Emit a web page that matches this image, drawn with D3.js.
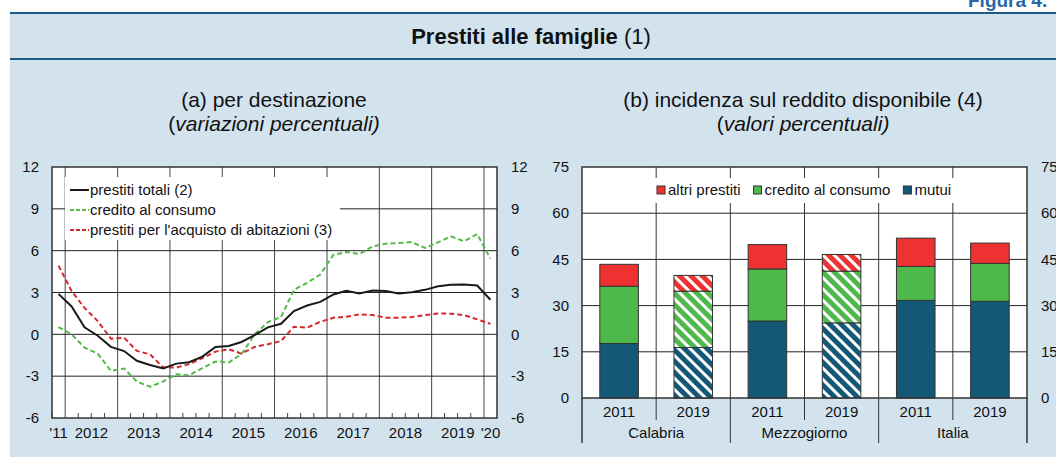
<!DOCTYPE html>
<html>
<head>
<meta charset="utf-8">
<script src="https://cdnjs.cloudflare.com/ajax/libs/d3/7.8.5/d3.min.js"></script>
<style>
body { margin: 0; background: #fff; }
svg { display: block; font-family: "Liberation Sans", Arial, sans-serif; }
</style>
</head>
<body>
<svg id="chart" width="1056" height="457"></svg>
<script>
// (a) quarterly growth rates
var quarters = ["2011Q4",
  "2012Q1", "2012Q2", "2012Q3", "2012Q4",
  "2013Q1", "2013Q2", "2013Q3", "2013Q4",
  "2014Q1", "2014Q2", "2014Q3", "2014Q4",
  "2015Q1", "2015Q2", "2015Q3", "2015Q4",
  "2016Q1", "2016Q2", "2016Q3", "2016Q4",
  "2017Q1", "2017Q2", "2017Q3", "2017Q4",
  "2018Q1", "2018Q2", "2018Q3", "2018Q4",
  "2019Q1", "2019Q2", "2019Q3", "2019Q4",
  "2020Q1"];
var totali = [2.9, 2.0, 0.5, -0.1, -0.9, -1.2, -1.9, -2.2, -2.45, -2.1, -2.0, -1.6, -0.9, -0.83, -0.55, -0.05,
  0.5, 0.76, 1.67, 2.07, 2.33, 2.86, 3.12, 2.93, 3.14, 3.1, 2.93, 3.02, 3.19, 3.45, 3.55, 3.57, 3.5, 2.48];
var consumo = [0.52, 0.0, -0.95, -1.38, -2.62, -2.45, -3.38, -3.76, -3.38, -2.86, -2.93, -2.42, -1.95, -2.02, -1.43, 0.0,
  0.88, 1.24, 3.2, 3.69, 4.29, 5.71, 5.9, 5.76, 6.31, 6.5, 6.55, 6.62, 6.19, 6.6, 7.02, 6.67, 7.19, 5.43];
var abitazioni = [4.93, 3.1, 1.9, 0.95, -0.31, -0.24, -1.19, -1.43, -2.38, -2.38, -2.14, -1.71, -1.24, -1.07, -1.38, -0.9,
  -0.71, -0.48, 0.55, 0.48, 0.9, 1.19, 1.26, 1.43, 1.38, 1.19, 1.19, 1.24, 1.38, 1.5, 1.48, 1.38, 1.07, 0.76];
var yearLabels = ["'11", "2012", "2013", "2014", "2015", "2016", "2017", "2018", "2019", "'20"];
var leftTicks = [-6, -3, 0, 3, 6, 9, 12];
var lineNames = ["prestiti totali (2)", "credito al consumo", "prestiti per l'acquisto di abitazioni (3)"];

// (b) share of disposable income
var areas = ["Calabria", "Mezzogiorno", "Italia"];
var years = ["2011", "2019"];
var mutui = [17.7, 16.4, 25.0, 24.4, 31.7, 31.4];
var creditoConsumo = [18.6, 18.3, 16.9, 16.8, 11.0, 12.3];
var altriPrestiti = [7.1, 5.1, 7.9, 5.4, 9.2, 6.6];
var hatched = [false, true, false, true, false, false];
var rightTicks = [0, 15, 30, 45, 60, 75];
var barNames = ["altri prestiti", "credito al consumo", "mutui"];

var colors = {
  bg: "#d3e3ee",
  rule: "#1d5987",
  grid: "#222",
  black: "#1a1a1a",
  green: "#55b94a",
  red: "#d42a2f",
  barRed: "#ee3131",
  barGreen: "#4fb84b",
  barBlue: "#145878"
};
var fs = 15; // tick and legend font size

var svg = d3.select("#chart");

// frame
svg.append("rect").attr("x", 10).attr("y", 13).attr("width", 1046).attr("height", 444).attr("fill", colors.bg);
svg.append("text").attr("x", 968).attr("y", 7).attr("fill", "#2567a8")
  .attr("font-size", 19).attr("font-weight", "bold").text("Figura 4.");
[13, 59].forEach(function (y) {
  svg.append("line").attr("x1", 10).attr("x2", 1056).attr("y1", y).attr("y2", y)
    .attr("stroke", colors.rule).attr("stroke-width", 2);
});
var title = svg.append("text").attr("x", 531).attr("y", 44).attr("text-anchor", "middle")
  .attr("font-size", 22).attr("fill", "#111");
title.append("tspan").attr("font-weight", "bold").text("Prestiti alle famiglie ");
title.append("tspan").text("(1)");

function subtitle(cx, line1, line2) {
  svg.append("text").attr("x", cx).attr("y", 107).attr("text-anchor", "middle")
    .attr("font-size", 21).attr("fill", "#111").text(line1);
  var t = svg.append("text").attr("x", cx).attr("y", 131).attr("text-anchor", "middle")
    .attr("font-size", 21).attr("fill", "#111");
  t.append("tspan").text("(");
  t.append("tspan").attr("font-style", "italic").text(line2 + ")");
}
subtitle(274, "(a) per destinazione", "variazioni percentuali");
subtitle(803, "(b) incidenza sul reddito disponibile (4)", "valori percentuali");

// ---------- panel (a) ----------
function quarterDate(q) {
  var yr = +q.slice(0, 4), n = +q.slice(5);
  return new Date(yr, (n - 1) * 3 + 1, 15);
}
var dates = quarters.map(quarterDate);
var x0 = new Date(2011, 9, 1), x1 = new Date(2020, 3, 1);
var xA = d3.scaleTime().domain([x0, x1]).range([52, 497]);
var yA = d3.scaleLinear().domain([-6, 12]).range([418, 167]);

var gA = svg.append("g");
gA.append("rect").attr("x", 52).attr("y", 167).attr("width", 445).attr("height", 251).attr("fill", "#fff");

// year gridlines
var yearStarts = d3.timeYear.range(new Date(2012, 0, 1), x1);
gA.selectAll(".vgrid").data(yearStarts).enter().append("line")
  .attr("x1", function (d) { return xA(d); }).attr("x2", function (d) { return xA(d); })
  .attr("y1", 167).attr("y2", 418).attr("stroke", "#444").attr("stroke-width", 1);
gA.selectAll(".hgrid").data(leftTicks.slice(1, -1)).enter().append("line")
  .attr("x1", 52).attr("x2", 497)
  .attr("y1", function (d) { return yA(d); }).attr("y2", function (d) { return yA(d); })
  .attr("stroke", colors.grid).attr("stroke-width", 1);

// quarter ticks at the bottom
var qTicks = d3.timeMonth.every(3).range(x0, x1).filter(function (d) { return d.getMonth() != 0; });
gA.selectAll(".qtick").data(qTicks).enter().append("line")
  .attr("x1", function (d) { return xA(d); }).attr("x2", function (d) { return xA(d); })
  .attr("y1", 418).attr("y2", 413).attr("stroke", "#444");

// legend box
gA.append("rect").attr("x", 65).attr("y", 177).attr("width", 275).attr("height", 63).attr("fill", "#fff");

var series = [
  { values: totali, color: colors.black, dash: null, width: 2 },
  { values: consumo, color: colors.green, dash: "5,3", width: 2 },
  { values: abitazioni, color: colors.red, dash: "5,3", width: 2 }
];
var line = d3.line().x(function (d, i) { return xA(dates[i]); }).y(function (d) { return yA(d); });
series.slice().reverse().forEach(function (s) {
  gA.append("path").attr("d", line(s.values)).attr("fill", "none")
    .attr("stroke", s.color).attr("stroke-width", s.width)
    .attr("stroke-dasharray", s.dash);
});

series.forEach(function (s, i) {
  var y = 190 + i * 20;
  gA.append("line").attr("x1", 70).attr("x2", 89).attr("y1", y).attr("y2", y)
    .attr("stroke", s.color).attr("stroke-width", s.width).attr("stroke-dasharray", s.dash ? "4,2" : null);
  gA.append("text").attr("x", 90).attr("y", y + 5).attr("font-size", fs).attr("fill", "#111").text(lineNames[i]);
});

// frame of panel (a)
gA.append("rect").attr("x", 52).attr("y", 167).attr("width", 445).attr("height", 251)
  .attr("fill", "none").attr("stroke", "#333").attr("stroke-width", 1.5);

leftTicks.forEach(function (t) {
  gA.append("text").attr("x", 39).attr("y", yA(t)).attr("dy", "0.35em").attr("text-anchor", "end")
    .attr("font-size", fs).attr("fill", "#111").text(t);
  gA.append("text").attr("x", 511).attr("y", yA(t)).attr("dy", "0.35em")
    .attr("font-size", fs).attr("fill", "#111").text(t);
});
yearLabels.forEach(function (lab, i) {
  var a = d3.max([x0, new Date(2011 + i, 0, 1)]);
  var b = d3.min([x1, new Date(2012 + i, 0, 1)]);
  var mid = new Date((a.getTime() + b.getTime()) / 2);
  gA.append("text").attr("x", xA(mid)).attr("y", 438).attr("text-anchor", "middle")
    .attr("font-size", fs).attr("fill", "#111").text(lab);
});

// ---------- panel (b) ----------
var cats = [];
areas.forEach(function (a) { years.forEach(function (y) { cats.push(a + " " + y); }); });
var rows = cats.map(function (c, i) {
  return { cat: c, mutui: mutui[i], consumo: creditoConsumo[i], altri: altriPrestiti[i], hatched: hatched[i] };
});
var xB = d3.scaleBand().domain(cats).range([582, 1027]).paddingInner(0.48).paddingOuter(0.24);
var yB = d3.scaleLinear().domain([0, 75]).range([398, 167]);
var step = xB.step();

var gB = svg.append("g");
gB.append("rect").attr("x", 582).attr("y", 167).attr("width", 445).attr("height", 231).attr("fill", "#fff");

gB.selectAll(".hgrid").data(rightTicks.slice(1, -1)).enter().append("line")
  .attr("x1", 582).attr("x2", 1027)
  .attr("y1", function (d) { return yB(d); }).attr("y2", function (d) { return yB(d); })
  .attr("stroke", colors.grid);
gB.selectAll(".vgrid").data(cats.slice(1)).enter().append("line")
  .attr("x1", function (d) { return xB(d) - xB.paddingInner() * step / 2; })
  .attr("x2", function (d) { return xB(d) - xB.paddingInner() * step / 2; })
  .attr("y1", 167).attr("y2", 398).attr("stroke", "#333");

// legend box
gB.append("rect").attr("x", 645).attr("y", 178).attr("width", 313).attr("height", 25).attr("fill", "#fff");

var defs = svg.append("defs");
var keys = ["mutui", "consumo", "altri"];
var fills = { mutui: colors.barBlue, consumo: colors.barGreen, altri: colors.barRed };
keys.forEach(function (k) {
  var p = defs.append("pattern").attr("id", "hatch-" + k).attr("patternUnits", "userSpaceOnUse")
    .attr("width", 8).attr("height", 8).attr("patternTransform", "rotate(-45)");
  p.append("rect").attr("width", 8).attr("height", 8).attr("fill", fills[k]);
  p.append("rect").attr("width", 3).attr("height", 8).attr("fill", "#fff");
});

var stack = d3.stack().keys(keys)(rows);
stack.forEach(function (layer) {
  gB.selectAll(".bar-" + layer.key).data(layer).enter().append("rect")
    .attr("x", function (d) { return xB(d.data.cat); })
    .attr("width", xB.bandwidth())
    .attr("y", function (d) { return yB(d[1]); })
    .attr("height", function (d) { return yB(d[0]) - yB(d[1]); })
    .attr("fill", function (d) { return d.data.hatched ? "url(#hatch-" + layer.key + ")" : fills[layer.key]; })
    .attr("stroke", "#333").attr("stroke-width", 1);
});

// legend
var lx = 657;
[["altri", barNames[0]], ["consumo", barNames[1]], ["mutui", barNames[2]]].forEach(function (it) {
  gB.append("rect").attr("x", lx).attr("y", 186).attr("width", 8).attr("height", 8)
    .attr("fill", fills[it[0]]).attr("stroke", "#333");
  var t = gB.append("text").attr("x", lx + 11).attr("y", 195).attr("font-size", fs).attr("fill", "#111").text(it[1]);
  lx += 11 + t.node().getComputedTextLength() + 13;
});

// frame and category axis
gB.append("rect").attr("x", 582).attr("y", 167).attr("width", 445).attr("height", 231)
  .attr("fill", "none").attr("stroke", "#333").attr("stroke-width", 1.5);
[582, 1027].forEach(function (x) {
  gB.append("line").attr("x1", x).attr("x2", x).attr("y1", 398).attr("y2", 443).attr("stroke", "#333").attr("stroke-width", 1.5);
});
cats.forEach(function (c, i) {
  var cx = xB(c) + xB.bandwidth() / 2;
  gB.append("text").attr("x", cx).attr("y", 417).attr("text-anchor", "middle")
    .attr("font-size", fs).attr("fill", "#111").text(years[i % 2]);
  if (i > 0) {
    var sx = xB(c) - xB.paddingInner() * step / 2;
    gB.append("line").attr("x1", sx).attr("x2", sx).attr("y1", 398).attr("y2", i % 2 ? 420 : 443)
      .attr("stroke", "#333");
  }
});
areas.forEach(function (a) {
  var c1 = xB(a + " " + years[0]), c2 = xB(a + " " + years[1]) + xB.bandwidth();
  gB.append("text").attr("x", (c1 + c2) / 2).attr("y", 438).attr("text-anchor", "middle")
    .attr("font-size", fs).attr("fill", "#111").text(a);
});
rightTicks.forEach(function (t) {
  gB.append("text").attr("x", 569).attr("y", yB(t)).attr("dy", "0.35em").attr("text-anchor", "end")
    .attr("font-size", fs).attr("fill", "#111").text(t);
  gB.append("text").attr("x", 1041).attr("y", yB(t)).attr("dy", "0.35em")
    .attr("font-size", fs).attr("fill", "#111").text(t);
});
</script>
</body>
</html>
